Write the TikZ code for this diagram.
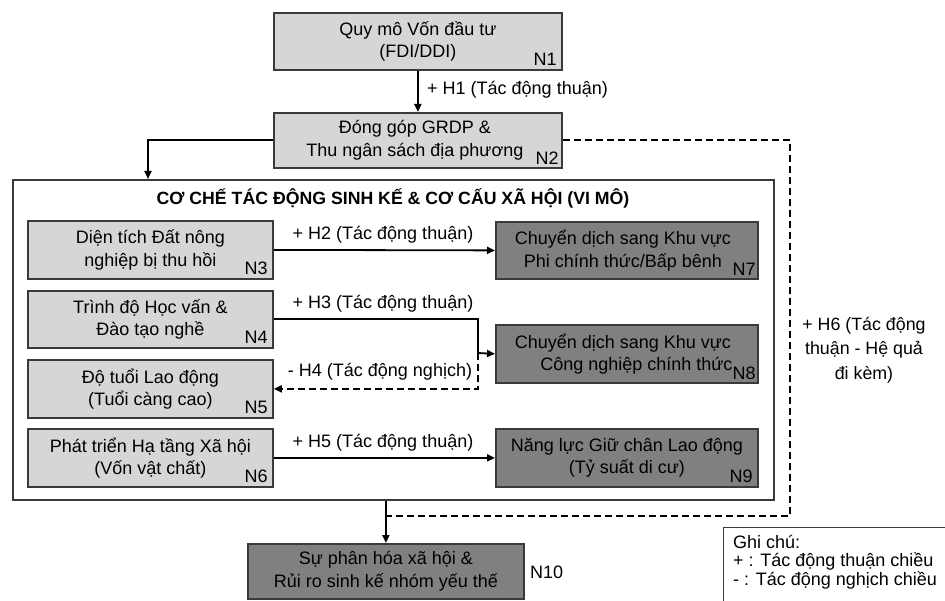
\documentclass[tikz,border=0pt]{standalone}
\usepackage{fontspec}
\setmainfont{Liberation Sans}
\usetikzlibrary{arrows.meta}
\definecolor{lightbox}{HTML}{D6D6D6}
\definecolor{darkbox}{HTML}{808080}
\definecolor{edge}{HTML}{3A3A3A}
\begin{document}
\begin{tikzpicture}[x=1pt,y=-1pt,
  txt/.style={font=\fontsize{18}{22.5}\selectfont, align=center, inner sep=0pt},
  boxbase/.style={draw=edge, line width=1.8pt, inner sep=0pt, anchor=north west},
  lightnode/.style={boxbase, fill=lightbox},
  darknode/.style={boxbase, fill=darkbox},
  nlab/.style={font=\fontsize{18}{20}\selectfont, anchor=south east, inner sep=0pt},
  lbl/.style={font=\fontsize{18}{20}\selectfont, inner sep=0pt},
  arr/.style={line width=1.8pt, draw=black, -{Triangle[length=8pt,width=7pt]}},
  conn/.style={line width=1.8pt, draw=black},
  dsh/.style={dash pattern=on 7pt off 4pt}
]
\useasboundingbox (0,0) rectangle (945,601);

% frame
\node[draw=edge, line width=1.8pt, fill=white, minimum width=761pt, minimum height=320pt, anchor=north west, inner sep=0pt] (fr) at (12,179) {};
\node[font=\bfseries\fontsize{17.7}{20}\selectfont, inner sep=0pt] (title) at (393,198) {CƠ CHẾ TÁC ĐỘNG SINH KẾ \& CƠ CẤU XÃ HỘI (VI MÔ)};

% top nodes
\node[lightnode, minimum width=288pt, minimum height=57pt] (n1) at (273,12) {};
\node[txt] (t1) at (n1.center) {Quy mô Vốn đầu tư\\(FDI/DDI)};
\node[nlab] (l1) at ([shift={(-6,-5)}]n1.south east) {N1};

\node[lightnode, minimum width=288pt, minimum height=55pt] (n2) at (273,112) {};
\node[txt] (t2) at ([xshift=-3pt]n2.center) {Đóng góp GRDP \&\\Thu ngân sách địa phương};
\node[nlab] (l2) at ([shift={(-4,-4)}]n2.south east) {N2};

% left nodes
\node[lightnode, minimum width=245pt, minimum height=58pt] (n3) at (27,220) {};
\node[txt] (t3) at (n3.center) {Diện tích Đất nông\\nghiệp bị thu hồi};
\node[nlab] (l3) at ([shift={(-6,-5)}]n3.south east) {N3};

\node[lightnode, minimum width=245pt, minimum height=57pt] (n4) at (27,290) {};
\node[txt] (t4) at (n4.center) {Trình độ Học vấn \&\\Đào tạo nghề};
\node[nlab] (l4) at ([shift={(-6,-5)}]n4.south east) {N4};

\node[lightnode, minimum width=245pt, minimum height=58pt] (n5) at (27,359) {};
\node[txt] (t5) at (n5.center) {Độ tuổi Lao động\\(Tuổi càng cao)};
\node[nlab] (l5) at ([shift={(-6,-5)}]n5.south east) {N5};

\node[lightnode, minimum width=245pt, minimum height=58pt] (n6) at (27,428) {};
\node[txt] (t6) at (n6.center) {Phát triển Hạ tầng Xã hội\\(Vốn vật chất)};
\node[nlab] (l6) at ([shift={(-6,-5)}]n6.south east) {N6};

% right nodes
\node[darknode, minimum width=262pt, minimum height=57pt] (n7) at (495,221) {};
\node[txt] (t7) at ([xshift=-4pt]n7.center) {Chuyển dịch sang Khu vực\\Phi chính thức/Bấp bênh};
\node[nlab] (l7) at ([shift={(-3,-4)}]n7.south east) {N7};

\node[darknode, minimum width=262pt, minimum height=58pt] (n8) at (495,324) {};
\node[txt] (t8) at ([xshift=-4pt]n8.center) {Chuyển dịch sang Khu vực\\\hspace*{1.5em}Công nghiệp chính thức};
\node[nlab] (l8) at ([shift={(-3,-4)}]n8.south east) {N8};

\node[darknode, minimum width=262pt, minimum height=58pt] (n9) at (495,428) {};
\node[txt] (t9) at (n9.center) {Năng lực Giữ chân Lao động\\(Tỷ suất di cư)};
\node[nlab] (l9) at ([shift={(-6,-5)}]n9.south east) {N9};

% bottom node
\node[darknode, minimum width=276pt, minimum height=55pt] (n10) at (247,543) {};
\node[txt] (t10) at (n10.center) {Sự phân hóa xã hội \&\\Rủi ro sinh kế nhóm yếu thế};
\node[lbl, anchor=west] (l10) at (530,572) {N10};

% legend
\node[draw=edge, line width=1.2pt, fill=white, minimum width=240pt, minimum height=90pt, anchor=north west, inner sep=0pt] (leg) at (723,527) {};
\node[font=\fontsize{18}{18.5}\selectfont, align=left, anchor=north west, inner sep=0pt] (legt) at (733,535) {Ghi chú:\\+ : Tác động thuận chiều\\- : Tác động nghịch chiều};

% connectors
\coordinate (fin) at (148,179);
\draw[arr] (n1.south) -- (n2.north);
\node[lbl, anchor=west] (h1) at (427,90) {+ H1 (Tác động thuận)};
\draw[arr] (n2.west) -| (fin);

\draw[arr] (n3.east) -- (n7.west);
\node[lbl] (h2) at (383,235) {+ H2 (Tác động thuận)};

\coordinate (j3) at (478,353);
\draw[conn] (n4.east) -| (j3);
\draw[arr] (j3) -- (n8.west);
\node[lbl] (h3) at (383,304) {+ H3 (Tác động thuận)};

\draw[arr, dsh] (j3) |- (n5.east);
\node[lbl] (h4) at (380,372) {- H4 (Tác động nghịch)};

\draw[arr] (n6.east) -- (n9.west);
\node[lbl] (h5) at (383,443) {+ H5 (Tác động thuận)};

\coordinate (j10) at (386,516);
\draw[arr] (n10.north |- fr.south) -- (n10.north);
\draw[conn, dsh] (n2.east) -| (790,516) -- (j10);
\node[lbl, align=center, font=\fontsize{17.8}{24.5}\selectfont] (h6) at (864,350) {+ H6 (Tác động\\thuận - Hệ quả\\đi kèm)};

\end{tikzpicture}
\end{document}
